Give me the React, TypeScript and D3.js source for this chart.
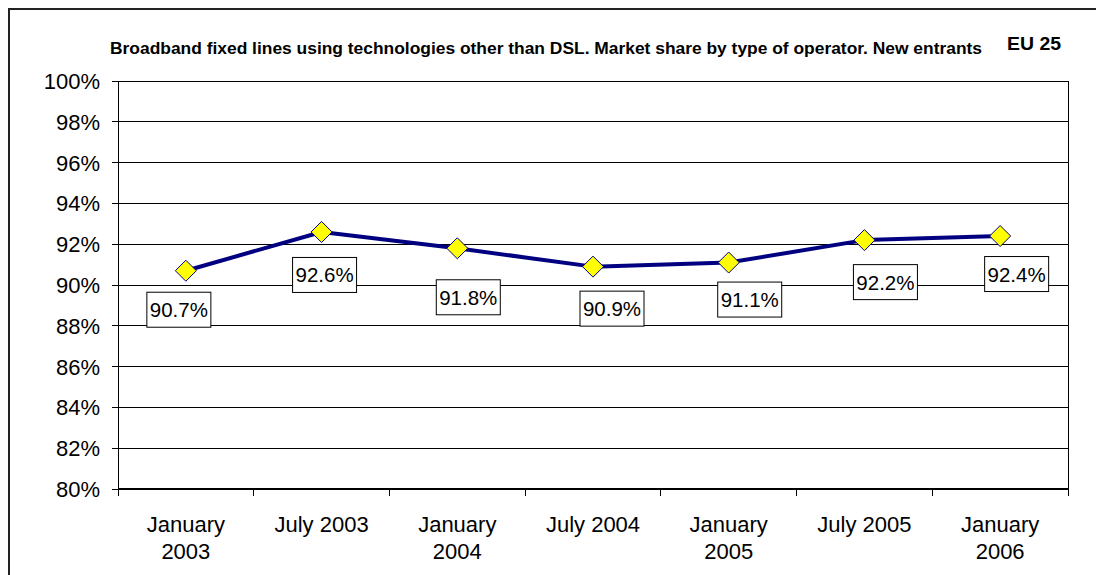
import React from "react";
import * as d3 from "d3";

const categories: string[][] = [
  ["January", "2003"],
  ["July 2003"],
  ["January", "2004"],
  ["July 2004"],
  ["January", "2005"],
  ["July 2005"],
  ["January", "2006"],
];
const values: number[] = [90.7, 92.6, 91.8, 90.9, 91.1, 92.2, 92.4];
const yTicks: number[] = [80, 82, 84, 86, 88, 90, 92, 94, 96, 98, 100];
const title =
  "Broadband fixed lines using technologies other than DSL. Market share by type of operator. New entrants";
const region = "EU 25";

// manual label placement (Excel style) relative to point
const labelDx: number[] = [-7, 3, 11, 19, 21, 21, 16.5];
const labelDy: number[] = [39, 43, 49, 42, 37, 42, 38];

const W = 1096;
const H = 575;
const left = 118;
const right = 1068;
const top = 81;
const bottom = 489;
const FONT = "Arial, 'Liberation Sans', Helvetica, sans-serif";

export default function App() {
  const keys = categories.map((_, i) => String(i));
  const x = d3.scaleBand<string>().domain(keys).range([left, right]).padding(0);
  const y = d3.scaleLinear().domain([80, 100]).range([bottom, top]);
  const cx = (i: number) => (x(String(i)) as number) + x.bandwidth() / 2;

  const line = d3
    .line<number>()
    .x((_, i) => cx(i))
    .y((d) => y(d));

  const boundaries = keys.map((k) => x(k) as number).concat([right]);
  const fmt = (v: number) => v.toFixed(1) + "%";
  const dsize = 10.5;

  return (
    <svg
      width={W}
      height={H}
      style={{ position: "absolute", left: 0, top: 0, background: "#fff" }}
      fontFamily={FONT}
    >
      <rect x={0} y={0} width={W} height={H} fill="#fff" />
      <rect x={9} y={9} width={W + 20} height={H + 20} fill="none" stroke="#222" strokeWidth={2} />

      <text x={110} y={54} fontSize={16} fontWeight="bold" fill="#000" textLength={872} lengthAdjust="spacingAndGlyphs">
        {title}
      </text>
      <text x={1007} y={50} fontSize={18.5} fontWeight="bold" fill="#000" textLength={54} lengthAdjust="spacingAndGlyphs">
        {region}
      </text>

      {/* gridlines */}
      {yTicks.map((t) => (
        <line key={"g" + t} x1={left} x2={right} y1={y(t)} y2={y(t)} stroke="#000" strokeWidth={1} shapeRendering="crispEdges" />
      ))}
      {/* y tick marks and labels */}
      {yTicks.map((t) => (
        <g key={"yt" + t}>
          <line x1={left - 6} x2={left} y1={y(t)} y2={y(t)} stroke="#000" strokeWidth={1} shapeRendering="crispEdges" />
          <text x={100} y={y(t) + 8} fontSize={22} textAnchor="end" fill="#000">
            {t + "%"}
          </text>
        </g>
      ))}
      {/* axes */}
      <line x1={left} x2={left} y1={top} y2={bottom + 7} stroke="#000" strokeWidth={1} shapeRendering="crispEdges" />
      <line x1={right} x2={right} y1={top} y2={bottom + 7} stroke="#000" strokeWidth={1} shapeRendering="crispEdges" />
      <line x1={left} x2={right} y1={bottom} y2={bottom} stroke="#000" strokeWidth={2} shapeRendering="crispEdges" />
      {boundaries.map((b, i) => (
        <line key={"xt" + i} x1={b} x2={b} y1={bottom} y2={bottom + 7} stroke="#000" strokeWidth={1} shapeRendering="crispEdges" />
      ))}
      {categories.map((lines, i) => (
        <text key={"xl" + i} x={cx(i)} y={532} fontSize={22} textAnchor="middle" fill="#000">
          {lines.map((l, j) => (
            <tspan key={j} x={cx(i)} dy={j === 0 ? 0 : 27}>
              {l}
            </tspan>
          ))}
        </text>
      ))}

      {/* series */}
      <path d={line(values) || ""} fill="none" stroke="#000080" strokeWidth={4} strokeLinejoin="round" />
      {values.map((v, i) => (
        <path
          key={"m" + i}
          d={`M${cx(i)},${y(v) - dsize}L${cx(i) + dsize},${y(v)}L${cx(i)},${y(v) + dsize}L${cx(i) - dsize},${y(v)}Z`}
          fill="#ffff00"
          stroke="#000080"
          strokeWidth={1}
        />
      ))}
      {values.map((v, i) => {
        const lx = cx(i) + labelDx[i];
        const ly = y(v) + labelDy[i];
        return (
          <g key={"l" + i}>
            <rect x={lx - 32} y={ly - 17.5} width={64} height={35} fill="#fff" stroke="#000" strokeWidth={1} />
            <text x={lx} y={ly + 7.5} fontSize={20.5} textAnchor="middle" fill="#000">
              {fmt(v)}
            </text>
          </g>
        );
      })}
    </svg>
  );
}
